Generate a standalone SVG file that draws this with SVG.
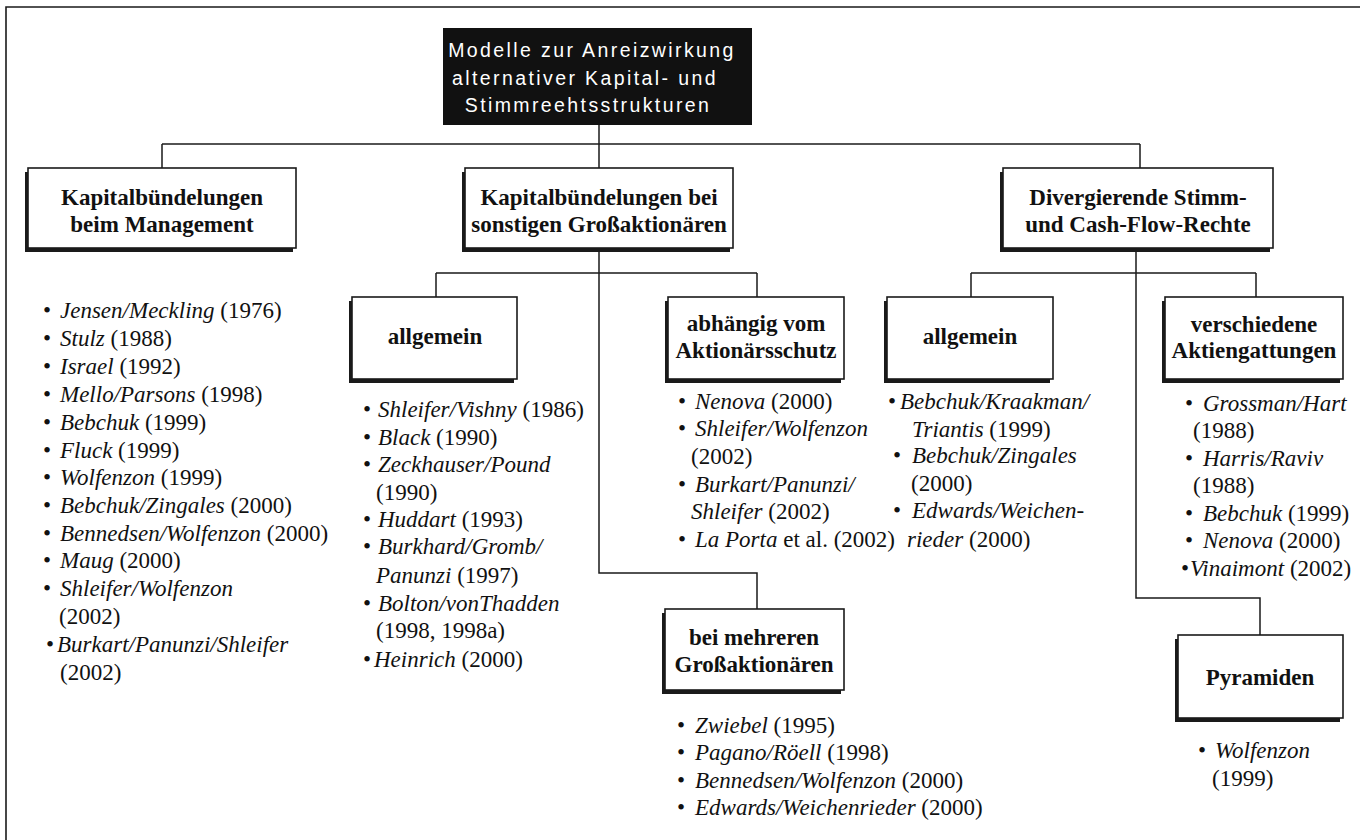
<svg xmlns="http://www.w3.org/2000/svg" width="1360" height="840" viewBox="0 0 1360 840">
<style>
.frame{fill:none;stroke:#1a1a1a;stroke-width:1.6}
.conn{fill:none;stroke:#1a1a1a;stroke-width:1.5}
.box{fill:#fff;stroke:#1a1a1a;stroke-width:1.6}
.shadow{fill:#1a1a1a}
.bt{font-family:"Liberation Serif","Times New Roman",serif;font-weight:bold;font-size:23px;text-anchor:middle;fill:#111}
.lt{font-family:"Liberation Serif","Times New Roman",serif;font-size:23px;fill:#111}
.i{font-style:italic}
.root{font-family:"Liberation Sans",Arial,sans-serif;font-size:19.5px;fill:#fff;letter-spacing:2.4px;text-anchor:middle}
</style>
<rect x="0" y="0" width="1360" height="840" fill="#fff"/>
<path class="frame" d="M6,840 V7 H1360"/>

<g id="connectors">
<path class="conn" d="M599,125 V144"/>
<path class="conn" d="M162,144 H1140"/>
<path class="conn" d="M162,144 V168 M599,144 V168 M1140,144 V168"/>
<path class="conn" d="M599,248 V573 H757 V609"/>
<path class="conn" d="M436,273 H757 M436,273 V297 M757,273 V297"/>
<path class="conn" d="M1136,248 V598 H1260 V635"/>
<path class="conn" d="M971,273 H1256 M971,273 V297 M1256,273 V297"/>
</g>

<g id="root">
<rect x="443" y="28" width="309" height="97" fill="#111"/>
<text class="root" x="592" y="57">Modelle zur Anreizwirkung</text>
<text class="root" x="585" y="85">alternativer Kapital- und</text>
<text class="root" x="588" y="112">Stimmreehtsstrukturen</text>
</g>

<g id="kapital-management">
<rect class="shadow" x="25" y="172" width="268" height="80"/>
<rect class="box" x="28" y="168" width="268" height="80"/>
<text class="bt" x="162" y="205">Kapitalbündelungen</text>
<text class="bt" x="162" y="232">beim Management</text>
</g>

<g id="kapital-grossaktionaere">
<rect class="shadow" x="462" y="172" width="268" height="80"/>
<rect class="box" x="465" y="168" width="268" height="80"/>
<text class="bt" x="599" y="205">Kapitalbündelungen bei</text>
<text class="bt" x="599" y="232">sonstigen Großaktionären</text>
</g>

<g id="divergierende">
<rect class="shadow" x="1000" y="172" width="270" height="80"/>
<rect class="box" x="1003" y="168" width="270" height="80"/>
<text class="bt" x="1138" y="205">Divergierende Stimm-</text>
<text class="bt" x="1138" y="232">und Cash-Flow-Rechte</text>
</g>

<g id="allgemein-1">
<rect class="shadow" x="349" y="301" width="165" height="82"/>
<rect class="box" x="352" y="297" width="165" height="82"/>
<text class="bt" x="435" y="344">allgemein</text>
</g>

<g id="aktionaersschutz">
<rect class="shadow" x="665" y="301" width="176" height="82"/>
<rect class="box" x="668" y="297" width="176" height="82"/>
<text class="bt" x="756" y="331">abhängig vom</text>
<text class="bt" x="756" y="358">Aktionärsschutz</text>
</g>

<g id="allgemein-2">
<rect class="shadow" x="884" y="301" width="166" height="82"/>
<rect class="box" x="887" y="297" width="166" height="82"/>
<text class="bt" x="970" y="344">allgemein</text>
</g>

<g id="aktiengattungen">
<rect class="shadow" x="1162" y="301" width="178" height="82"/>
<rect class="box" x="1165" y="297" width="178" height="82"/>
<text class="bt" x="1254" y="332">verschiedene</text>
<text class="bt" x="1254" y="358">Aktiengattungen</text>
</g>

<g id="mehrere-grossaktionaere">
<rect class="shadow" x="662" y="613" width="179" height="81"/>
<rect class="box" x="665" y="609" width="179" height="81"/>
<text class="bt" x="754" y="645">bei mehreren</text>
<text class="bt" x="754" y="672">Großaktionären</text>
</g>

<g id="pyramiden">
<rect class="shadow" x="1175" y="639" width="165" height="83"/>
<rect class="box" x="1178" y="635" width="165" height="83"/>
<text class="bt" x="1260" y="685">Pyramiden</text>
</g>

<g id="list-management" class="lt">
<text x="43" y="318">•</text><text x="60" y="318"><tspan class="i">Jensen/Meckling</tspan> (1976)</text>
<text x="43" y="346">•</text><text x="60" y="346"><tspan class="i">Stulz</tspan> (1988)</text>
<text x="43" y="374">•</text><text x="60" y="374"><tspan class="i">Israel</tspan> (1992)</text>
<text x="43" y="402">•</text><text x="60" y="402"><tspan class="i">Mello/Parsons</tspan> (1998)</text>
<text x="43" y="430">•</text><text x="60" y="430"><tspan class="i">Bebchuk</tspan> (1999)</text>
<text x="43" y="458">•</text><text x="60" y="458"><tspan class="i">Fluck</tspan> (1999)</text>
<text x="43" y="485">•</text><text x="60" y="485"><tspan class="i">Wolfenzon</tspan> (1999)</text>
<text x="43" y="513">•</text><text x="60" y="513"><tspan class="i">Bebchuk/Zingales</tspan> (2000)</text>
<text x="43" y="541">•</text><text x="60" y="541"><tspan class="i">Bennedsen/Wolfenzon</tspan> (2000)</text>
<text x="43" y="568">•</text><text x="60" y="568"><tspan class="i">Maug</tspan> (2000)</text>
<text x="43" y="596">•</text><text x="60" y="596"><tspan class="i">Shleifer/Wolfenzon</tspan></text>
<text x="59" y="624">(2002)</text>
<text x="46" y="652">•</text><text x="57" y="652"><tspan class="i">Burkart/Panunzi/Shleifer</tspan></text>
<text x="60" y="680">(2002)</text>
</g>

<g id="list-allgemein-1" class="lt">
<text x="363" y="417">•</text><text x="378" y="417"><tspan class="i">Shleifer/Vishny</tspan> (1986)</text>
<text x="363" y="445">•</text><text x="378" y="445"><tspan class="i">Black</tspan> (1990)</text>
<text x="363" y="472">•</text><text x="378" y="472"><tspan class="i">Zeckhauser/Pound</tspan></text>
<text x="376" y="500">(1990)</text>
<text x="363" y="527">•</text><text x="378" y="527"><tspan class="i">Huddart</tspan> (1993)</text>
<text x="363" y="554">•</text><text x="378" y="554"><tspan class="i">Burkhard/Gromb/</tspan></text>
<text x="376" y="583"><tspan class="i">Panunzi</tspan> (1997)</text>
<text x="363" y="611">•</text><text x="378" y="611"><tspan class="i">Bolton/vonThadden</tspan></text>
<text x="376" y="638">(1998, 1998a)</text>
<text x="363" y="667">•</text><text x="374" y="667"><tspan class="i">Heinrich</tspan> (2000)</text>
</g>

<g id="list-aktionaersschutz" class="lt">
<text x="678" y="409">•</text><text x="695" y="409"><tspan class="i">Nenova</tspan> (2000)</text>
<text x="678" y="436">•</text><text x="695" y="436"><tspan class="i">Shleifer/Wolfenzon</tspan></text>
<text x="691" y="464">(2002)</text>
<text x="678" y="492">•</text><text x="695" y="492"><tspan class="i">Burkart/Panunzi/</tspan></text>
<text x="691" y="519"><tspan class="i">Shleifer</tspan> (2002)</text>
<text x="678" y="547">•</text><text x="695" y="547"><tspan class="i">La Porta</tspan> et al. (2002)</text>
</g>

<g id="list-allgemein-2" class="lt">
<text x="888" y="409">•</text><text x="900" y="409"><tspan class="i">Bebchuk/Kraakman/</tspan></text>
<text x="912" y="437"><tspan class="i">Triantis</tspan> (1999)</text>
<text x="893" y="463">•</text><text x="912" y="463"><tspan class="i">Bebchuk/Zingales</tspan></text>
<text x="911" y="491">(2000)</text>
<text x="893" y="518">•</text><text x="912" y="518"><tspan class="i">Edwards/Weichen-</tspan></text>
<text x="907" y="547"><tspan class="i">rieder</tspan> (2000)</text>
</g>

<g id="list-aktiengattungen" class="lt">
<text x="1185" y="411">•</text><text x="1203" y="411"><tspan class="i">Grossman/Hart</tspan></text>
<text x="1193" y="438">(1988)</text>
<text x="1185" y="466">•</text><text x="1203" y="466"><tspan class="i">Harris/Raviv</tspan></text>
<text x="1193" y="493">(1988)</text>
<text x="1185" y="521">•</text><text x="1203" y="521"><tspan class="i">Bebchuk</tspan> (1999)</text>
<text x="1185" y="548">•</text><text x="1203" y="548"><tspan class="i">Nenova</tspan> (2000)</text>
<text x="1181" y="576">•</text><text x="1190" y="576"><tspan class="i">Vinaimont</tspan> (2002)</text>
</g>

<g id="list-mehrere" class="lt">
<text x="677" y="733">•</text><text x="695" y="733"><tspan class="i">Zwiebel</tspan> (1995)</text>
<text x="677" y="760">•</text><text x="695" y="760"><tspan class="i">Pagano/Röell</tspan> (1998)</text>
<text x="677" y="788">•</text><text x="695" y="788"><tspan class="i">Bennedsen/Wolfenzon</tspan> (2000)</text>
<text x="677" y="815">•</text><text x="695" y="815"><tspan class="i">Edwards/Weichenrieder</tspan> (2000)</text>
</g>

<g id="list-pyramiden" class="lt">
<text x="1198" y="758">•</text><text x="1215" y="758"><tspan class="i">Wolfenzon</tspan></text>
<text x="1212" y="786">(1999)</text>
</g>
</svg>
